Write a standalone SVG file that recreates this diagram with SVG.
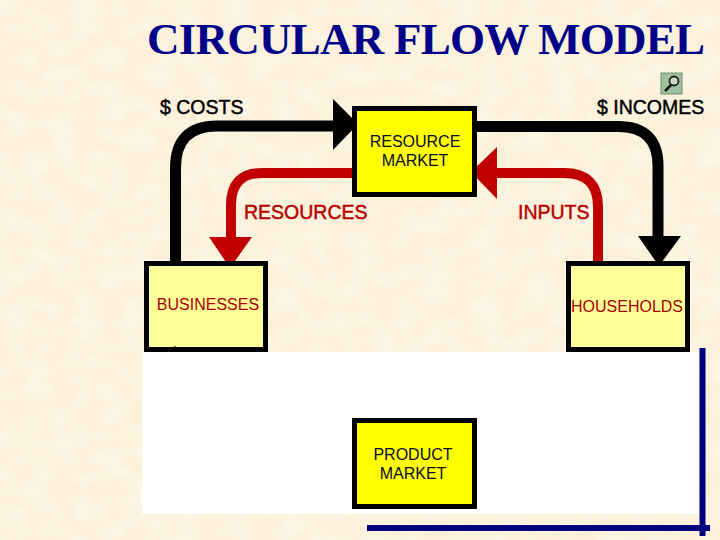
<svg xmlns="http://www.w3.org/2000/svg" width="720" height="540" viewBox="0 0 720 540">
<defs>
<filter id="paper" x="0" y="0" width="100%" height="100%"><feTurbulence type="fractalNoise" baseFrequency="0.04 0.06" numOctaves="3" seed="4"/><feColorMatrix values="0 0 0 0 1  0 0 0 0 0.97  0 0 0 0 0.9  1.6 0 0 0 -0.5"/></filter>
</defs>
<style>
.bg{fill:#fbf0d8}
text{font-family:"Liberation Sans",Arial,sans-serif}
.title{font-family:"Liberation Serif","Times New Roman",serif;font-weight:700;font-size:45px;fill:#000088}
.lead{font-size:19.500px;fill:#000;stroke:#000;stroke-width:.45}
.red{font-size:19.500px;fill:#b80000;stroke:#b80000;stroke-width:.45}
.box{stroke:#000;stroke-width:5}
.mkt{fill:#ffff00}
.agent{fill:#ffff99}
.name{font-size:16px;fill:#0a0a30;text-anchor:middle}
.agentname{font-size:16px;fill:#a80000;text-anchor:middle}
.blk{fill:none;stroke:#000;stroke-width:11}
.rd{fill:none;stroke:#c00000;stroke-width:10}
.navy{stroke:#000080;stroke-width:6}
</style>
<rect class="bg" width="720" height="540"/>
<rect width="720" height="540" filter="url(#paper)" opacity="0.6"/>
<text class="title" x="147" y="54" textLength="558" lengthAdjust="spacing">CIRCULAR FLOW MODEL</text>
<g id="connectors">
<path class="blk" d="M175.500 265V168Q175.500 126 217 126H340"/>
<polygon points="333,99 358,124 333,150" fill="#000"/>
<path class="blk" d="M470 126.500H618Q658 126.500 658 166V240"/>
<polygon points="638,236 681,236 659,266" fill="#000"/>
<path class="rd" d="M356 173H262Q231 173 231 205V240"/>
<polygon points="209,237 252,237 230,268" fill="#c00000"/>
<path class="rd" d="M598 265V207Q598 173 564 173H490"/>
<polygon points="497,147 471,172 497,199" fill="#c00000"/>
</g>
<g id="resource-market">
<rect class="box mkt" x="354.500" y="108.500" width="120" height="86"/>
<text class="name" x="415" y="147">RESOURCE</text>
<text class="name" x="415" y="166">MARKET</text>
</g>
<g id="businesses">
<rect class="box agent" x="146.500" y="263.500" width="119" height="86"/>
<text class="agentname" x="208" y="310">BUSINESSES</text>
</g>
<g id="households">
<rect class="box agent" x="568.500" y="263.500" width="119" height="86"/>
<text class="agentname" x="627" y="312">HOUSEHOLDS</text>
</g>
<rect x="142" y="352" width="556" height="162" fill="#fff"/>
<path d="M175 346V350" stroke="#000" stroke-width="1"/>
<g id="product-market">
<rect class="box mkt" x="354.500" y="420.500" width="120" height="86"/>
<text class="name" x="413" y="460">PRODUCT</text>
<text class="name" x="413" y="479">MARKET</text>
</g>
<text class="lead" x="160" y="114">$ COSTS</text>
<text class="lead" x="597" y="114">$ INCOMES</text>
<text class="red" x="244" y="219">RESOURCES</text>
<text class="red" x="518" y="219">INPUTS</text>
<g id="frame">
<path class="navy" d="M702.500 348V536M367 528H710"/>
</g>
<g id="magnifier-icon">
<rect x="661" y="73" width="21" height="21" fill="#9fbf9f" stroke="#6f8f6f"/>
<circle cx="674" cy="81" r="4.500" fill="#c8dcc8" stroke="#222" stroke-width="1.800"/>
<path d="M671 85L665 91" stroke="#111" stroke-width="2.500"/>
</g>
</svg>
